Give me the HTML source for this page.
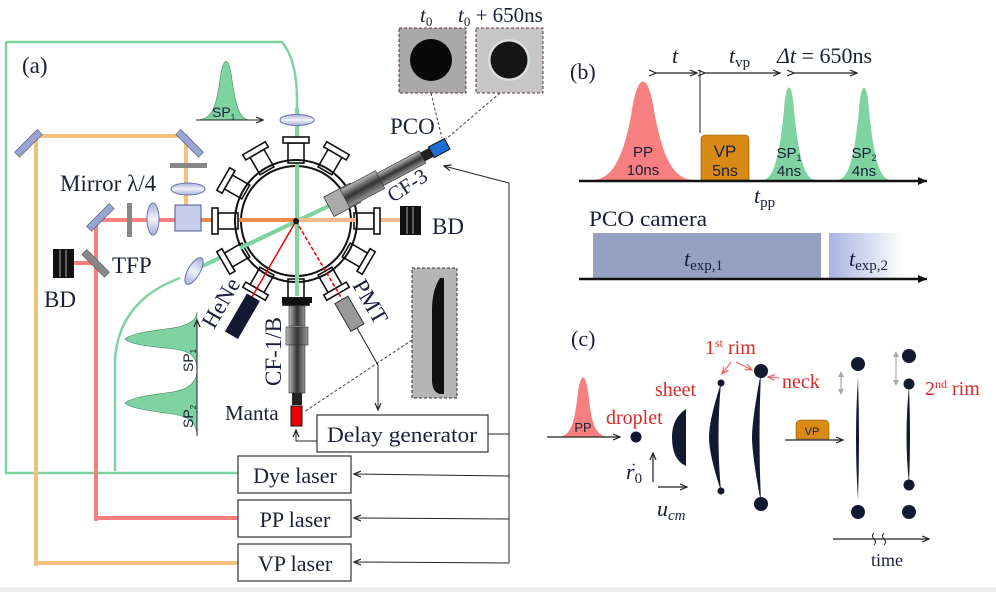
<!DOCTYPE html>
<html><head><meta charset="utf-8"><style>
html,body{margin:0;padding:0;background:#fff;}
svg{display:block;}
text{font-family:"Liberation Serif",serif;fill:#1a1f3a;}
.s{font-family:"Liberation Sans","DejaVu Sans",sans-serif;}
.r{fill:#d42a2a;}
</style></head><body>
<svg width="996" height="592" viewBox="0 0 996 592" xmlns="http://www.w3.org/2000/svg">
<defs>
<linearGradient id="tube" x1="0" y1="0" x2="0" y2="1"><stop offset="0" stop-color="#bbb"/><stop offset=".5" stop-color="#333"/><stop offset="1" stop-color="#999"/></linearGradient>
<linearGradient id="tubev" x1="0" y1="0" x2="1" y2="0"><stop offset="0" stop-color="#bbb"/><stop offset=".5" stop-color="#333"/><stop offset="1" stop-color="#999"/></linearGradient>
<linearGradient id="lens" x1="0" y1="0" x2="0" y2="1"><stop offset="0" stop-color="#a6b0dc"/><stop offset=".5" stop-color="#f0f2fb"/><stop offset="1" stop-color="#a6b0dc"/></linearGradient>
<linearGradient id="exp2" x1="0" y1="0" x2="1" y2="0"><stop offset="0" stop-color="#a8b2e0"/><stop offset="1" stop-color="#fff"/></linearGradient>
<marker id="ah" markerWidth="8" markerHeight="8" refX="7" refY="4" orient="auto" markerUnits="userSpaceOnUse"><path d="M0,1 L7,4 L0,7" fill="none" stroke="#222" stroke-width="1.2"/></marker>
<marker id="at" markerWidth="10" markerHeight="10" refX="9" refY="5" orient="auto" markerUnits="userSpaceOnUse"><path d="M0,1 L9,5 L0,9 Z" fill="#111"/></marker>
<marker id="ar" markerWidth="8" markerHeight="8" refX="7" refY="4" orient="auto" markerUnits="userSpaceOnUse"><path d="M0,1 L7,4 L0,7" fill="none" stroke="#f06060" stroke-width="1.2"/></marker>
</defs>

<rect x="0" y="587" width="996" height="5" fill="#eee"/>

<path d="M6,42 H282 Q297,60 297,100 V310" fill="none" stroke="#7ed3a0" stroke-width="2.5"/>
<path d="M6,42 V473 H238" fill="none" stroke="#7ed3a0" stroke-width="2.5"/>
<line x1="297" y1="108" x2="297" y2="300" stroke="#7ed3a0" stroke-width="4"/>
<path d="M115,471 V358 Q120,300 180,278" fill="none" stroke="#7ed3a0" stroke-width="2.5"/>
<line x1="190" y1="272" x2="333" y2="204" stroke="#7ed3a0" stroke-width="4"/>
<path d="M36,566 V136 H186 V205" fill="none" stroke="#f0c27e" stroke-width="4"/>
<line x1="38" y1="563" x2="238" y2="563" stroke="#f0c27e" stroke-width="4"/>
<path d="M96,521 V220 H178" fill="none" stroke="#f77f7f" stroke-width="4"/>
<line x1="98" y1="518" x2="238" y2="518" stroke="#f77f7f" stroke-width="4"/>
<line x1="62" y1="263" x2="96" y2="263" stroke="#f77f7f" stroke-width="4"/>
<line x1="196" y1="220" x2="297" y2="220" stroke="#ec8c4c" stroke-width="4"/>
<line x1="297" y1="220" x2="400" y2="220" stroke="#f2b890" stroke-width="4"/>

<rect x="12" y="140" width="32" height="7" fill="#9aa3d6" stroke="#555" stroke-width=".6" transform="rotate(-45 28 143)"/>
<rect x="174" y="140" width="32" height="7" fill="#9aa3d6" stroke="#555" stroke-width=".6" transform="rotate(45 190 143)"/>
<rect x="84" y="214" width="32" height="7" fill="#9aa3d6" stroke="#555" stroke-width=".6" transform="rotate(-45 100 217)"/>
<rect x="80" y="260" width="32" height="7" fill="#888" stroke="#555" stroke-width=".6" transform="rotate(45 96 263)"/>
<rect x="170" y="163" width="37" height="5" fill="#888"/>
<ellipse cx="188" cy="189" rx="17" ry="6" fill="url(#lens)" stroke="#6a74a8"/>
<rect x="127" y="203" width="5" height="34" fill="#888"/>
<ellipse cx="153" cy="219" rx="6" ry="16" fill="url(#lens)" stroke="#6a74a8"/>
<rect x="175" y="205" width="26" height="26" fill="#c7cdea" stroke="#4a5a90"/>
<ellipse cx="297" cy="120" rx="17" ry="5.5" fill="url(#lens)" stroke="#6a74a8"/>
<ellipse cx="194" cy="271" rx="6" ry="15" fill="url(#lens)" stroke="#6a74a8" transform="rotate(30 194 271)"/>
<g><rect x="53" y="249" width="21" height="29" fill="#111"/><line x1="60" y1="250" x2="60" y2="277" stroke="#aaa"/><line x1="66" y1="250" x2="66" y2="277" stroke="#aaa"/></g>
<g><rect x="400" y="206" width="21" height="29" fill="#111"/><line x1="407" y1="207" x2="407" y2="234" stroke="#aaa"/><line x1="413" y1="207" x2="413" y2="234" stroke="#aaa"/></g>

<g fill="#fff" stroke="#111" stroke-width="1.6">
<g transform="translate(296,221) rotate(0)"><rect x="58" y="-8" width="20" height="16"/><rect x="78" y="-13" width="6" height="26"/></g>
<g transform="translate(296,221) rotate(30)"><rect x="58" y="-8" width="20" height="16"/><rect x="78" y="-13" width="6" height="26"/></g>
<g transform="translate(296,221) rotate(60)"><rect x="58" y="-8" width="20" height="16"/><rect x="78" y="-13" width="6" height="26"/></g>
<g transform="translate(296,221) rotate(90)"><rect x="58" y="-8" width="20" height="16"/><rect x="78" y="-13" width="6" height="26" fill="#111"/></g>
<g transform="translate(296,221) rotate(120)"><rect x="58" y="-8" width="20" height="16"/><rect x="78" y="-13" width="6" height="26"/></g>
<g transform="translate(296,221) rotate(150)"><rect x="58" y="-8" width="20" height="16"/><rect x="78" y="-13" width="6" height="26"/></g>
<g transform="translate(296,221) rotate(180)"><rect x="58" y="-8" width="20" height="16"/><rect x="78" y="-13" width="6" height="26"/></g>
<g transform="translate(296,221) rotate(210)"><rect x="58" y="-8" width="20" height="16"/><rect x="78" y="-13" width="6" height="26"/></g>
<g transform="translate(296,221) rotate(240)"><rect x="58" y="-8" width="20" height="16"/><rect x="78" y="-13" width="6" height="26"/></g>
<g transform="translate(296,221) rotate(270)"><rect x="58" y="-8" width="20" height="16"/><rect x="78" y="-13" width="6" height="26"/></g>
<g transform="translate(296,221) rotate(300)"><rect x="58" y="-8" width="20" height="16"/><rect x="78" y="-13" width="6" height="26"/></g>
</g>
<circle cx="296" cy="221" r="61" fill="none" stroke="#111" stroke-width="2"/>
<circle cx="296" cy="221" r="55" fill="none" stroke="#111" stroke-width="2"/>
<line x1="297" y1="165" x2="297" y2="296" stroke="#7ed3a0" stroke-width="4"/>
<line x1="240" y1="248" x2="333" y2="204" stroke="#7ed3a0" stroke-width="4"/>
<line x1="240" y1="220" x2="297" y2="220" stroke="#ec8c4c" stroke-width="4"/>
<line x1="297" y1="220" x2="356" y2="220" stroke="#f2b890" stroke-width="4"/>
<line x1="296" y1="221" x2="252" y2="297" stroke="#e00" stroke-width="1.5"/>
<line x1="296" y1="221" x2="342" y2="299" stroke="#e00" stroke-width="1.5" stroke-dasharray="4,2"/>
<circle cx="296" cy="221" r="3" fill="#111"/>
<rect x="235" y="294" width="15" height="44" fill="#111a30" transform="rotate(30 242 316)"/>
<rect x="342" y="298" width="15" height="32" fill="#999" stroke="#333" transform="rotate(-30 349 314)"/>
<rect x="282" y="297" width="30" height="6" fill="#111"/>
<rect x="289" y="306" width="16" height="20" fill="url(#tubev)" stroke="#333" stroke-width=".6"/>
<rect x="286" y="327" width="22" height="18" fill="url(#tubev)" stroke="#333" stroke-width=".6"/>
<rect x="289" y="345" width="16" height="48" fill="url(#tubev)" stroke="#333" stroke-width=".6"/>
<rect x="292" y="393" width="10" height="12" fill="#222"/>
<rect x="291" y="406" width="11" height="20" fill="#e00" stroke="#111"/>
<g transform="translate(336,203) rotate(-28)">
<rect x="-8" y="-11" width="30" height="22" fill="#aaa" stroke="#333" stroke-width=".7"/>
<rect x="10" y="-10" width="40" height="20" fill="url(#tube)" stroke="#333" stroke-width=".6"/>
<rect x="50" y="-7" width="48" height="14" fill="url(#tube)" stroke="#333" stroke-width=".6"/>
<rect x="98" y="-5" width="10" height="10" fill="#222"/>
<rect x="108" y="-6" width="18" height="12" fill="#1a6fd0" stroke="#111"/>
</g>
<line x1="431" y1="93" x2="442" y2="138" stroke="#5a3a3a" stroke-width="1" stroke-dasharray="3,2"/>
<line x1="500" y1="93" x2="446" y2="139" stroke="#5a3a3a" stroke-width="1" stroke-dasharray="3,2"/>
<line x1="412" y1="340" x2="304" y2="412" stroke="#5a3a3a" stroke-width="1" stroke-dasharray="3,2"/>
<rect x="399" y="28" width="67" height="65" fill="#a9a9a9" stroke="#5a3a3a" stroke-dasharray="3,2"/>
<circle cx="431" cy="60" r="21" fill="#080808"/>
<rect x="476" y="28" width="67" height="65" fill="#c6c6c6" stroke="#5a3a3a" stroke-dasharray="3,2"/>
<circle cx="509" cy="60" r="21" fill="#ddd"/><circle cx="509" cy="60" r="18.5" fill="#151515"/>
<rect x="412" y="268" width="45" height="130" fill="#b5b5b5" stroke="#333" stroke-dasharray="3,2"/>
<path d="M440,278 Q432,290 432,310 L432,380 Q432,392 440,394 L444,394 L444,278 Z" fill="#111"/>

<polyline points="509,183 509,563" fill="none" stroke="#222" stroke-width="1"/>
<line x1="509" y1="183" x2="444" y2="166" stroke="#222" stroke-width="1" marker-end="url(#ah)"/>
<line x1="488" y1="434" x2="509" y2="434" stroke="#222"/>
<line x1="509" y1="476" x2="354" y2="474" stroke="#222" marker-end="url(#ah)"/>
<line x1="509" y1="519" x2="354" y2="518" stroke="#222" marker-end="url(#ah)"/>
<line x1="509" y1="563" x2="354" y2="562" stroke="#222" marker-end="url(#ah)"/>
<polyline points="357,328 378,365 378,410" fill="none" stroke="#222" marker-end="url(#ah)"/>
<polyline points="317,441 296,441 296,430" fill="none" stroke="#222" marker-end="url(#ah)"/>

<g fill="#fff" stroke="#333" stroke-width="1.2">
<rect x="317" y="415" width="171" height="37"/>
<rect x="238" y="456" width="113" height="37"/>
<rect x="238" y="500" width="113" height="37"/>
<rect x="238" y="544" width="113" height="37"/>
</g>
<g font-size="22">
<text x="402" y="442" text-anchor="middle" textLength="150" lengthAdjust="spacingAndGlyphs">Delay generator</text>
<text x="295" y="483" text-anchor="middle">Dye laser</text>
<text x="295" y="527" text-anchor="middle">PP laser</text>
<text x="295" y="571" text-anchor="middle">VP laser</text>
</g>

<path d="M196,120 C212,120 216,108 220,80 C223,55 229,55 232,80 C236,108 240,120 250,120 Z" fill="#7ed3a0" stroke="#3a8a5a" stroke-width=".6"/>
<line x1="196" y1="120" x2="263" y2="120" stroke="#222" marker-end="url(#ah)"/>
<text x="212" y="117" class="s" font-size="14">SP<tspan font-size="8" dy="3">1</tspan></text>
<path d="M197,436 C197,420 185,415 165,413 C145,410 130,408 125,403 C130,398 145,396 165,393 C185,391 197,385 197,370 C197,352 185,350 165,348 C145,346 130,344 125,339 C130,334 145,332 165,329 C185,327 197,322 197,312 Z" fill="#7ed3a0" stroke="#3a8a5a" stroke-width=".6"/>
<line x1="197" y1="436" x2="197" y2="320" stroke="#222" marker-end="url(#ah)"/>
<text class="s" font-size="14" transform="translate(193,372) rotate(-90)">SP<tspan font-size="8" dy="3">1</tspan></text>
<text class="s" font-size="14" transform="translate(193,428) rotate(-90)">SP<tspan font-size="8" dy="3">2</tspan></text>

<g font-size="23">
<text x="22" y="73">(a)</text>
<text x="60" y="191">Mirror λ/4</text>
<text x="112" y="273">TFP</text>
<text x="44" y="307">BD</text>
<text x="432" y="234">BD</text>
<text x="390" y="134">PCO</text>
<text x="225" y="420" font-size="21">Manta</text>
<text transform="translate(393,203) rotate(-33)" font-size="21">CF-3</text>
<text transform="translate(214,330) rotate(-60)">HeNe</text>
<text transform="translate(352,285) rotate(60)">PMT</text>
<text transform="translate(281,386) rotate(-90)">CF-1/B</text>
<text x="420" y="22" font-size="21" font-style="italic">t<tspan font-size="13" dy="4" font-style="normal">0</tspan></text>
<text x="458" y="22" font-size="21" font-style="italic">t<tspan font-size="13" dy="4" font-style="normal">0</tspan><tspan dy="-4" font-style="normal"> + 650ns</tspan></text>
</g>

<text x="570" y="79" font-size="22">(b)</text>
<path d="M592,180 C615,180 625,150 632,110 C638,72 648,72 654,110 C661,150 671,180 694,180 Z" fill="#f77f7f"/>
<path d="M701,180 V140 Q701,135 706,135 H745 Q749,135 749,140 V180 Z" fill="#d98a14" stroke="#7a4a00" stroke-width=".6"/>
<path d="M762,180 C775,180 780,150 784,110 C786,80 792,80 794,110 C798,150 803,180 816,180 Z" fill="#7ed3a0"/>
<path d="M837,180 C850,180 855,150 859,110 C861,80 867,80 869,110 C873,150 878,180 891,180 Z" fill="#7ed3a0"/>
<line x1="579" y1="181" x2="927" y2="181" stroke="#111" stroke-width="2.5" marker-end="url(#at)"/>
<line x1="700" y1="70" x2="700" y2="133" stroke="#222"/>
<g stroke="#222" stroke-width="1.2">
<line x1="656" y1="73" x2="697" y2="73" marker-end="url(#ah)" marker-start="url(#ah)"/>
<line x1="705" y1="73" x2="780" y2="73" marker-end="url(#ah)" marker-start="url(#ah)"/>
<line x1="794" y1="73" x2="857" y2="73" marker-end="url(#ah)" marker-start="url(#ah)"/>
</g>
<g font-size="15" text-anchor="middle">
<text x="643" y="157" class="s" fill="#333">PP</text><text x="643" y="175" class="s" fill="#333">10ns</text>
<text x="725" y="157" class="s" font-size="17" fill="#333">VP</text><text x="725" y="176" class="s" font-size="16" fill="#333">5ns</text>
<text x="789" y="158" class="s" fill="#333">SP<tspan font-size="9" dy="3">1</tspan></text><text x="789" y="176" class="s" fill="#333">4ns</text>
<text x="864" y="158" class="s" fill="#333">SP<tspan font-size="9" dy="3">2</tspan></text><text x="864" y="176" class="s" fill="#333">4ns</text>
</g>
<g font-size="22">
<text x="672" y="63" font-style="italic">t</text>
<text x="729" y="63" font-style="italic">t<tspan font-size="15" dy="4" font-style="normal">vp</tspan></text>
<text x="777" y="63"><tspan font-style="italic">Δt</tspan> = 650ns</text>
<text x="754" y="203" font-style="italic">t<tspan font-size="15" dy="4" font-style="normal">pp</tspan></text>
<text x="589" y="226" textLength="118" lengthAdjust="spacingAndGlyphs">PCO camera</text>
</g>
<rect x="593" y="233" width="228" height="47" fill="#95a0c2"/>
<rect x="829" y="233" width="74" height="47" fill="url(#exp2)"/>
<line x1="579" y1="279" x2="927" y2="279" stroke="#111" stroke-width="2.5" marker-end="url(#at)"/>
<text x="684" y="266" font-size="22" font-style="italic">t<tspan font-size="15" dy="4" font-style="normal">exp,1</tspan></text>
<text x="849" y="266" font-size="22" font-style="italic">t<tspan font-size="15" dy="4" font-style="normal">exp,2</tspan></text>

<text x="571" y="346" font-size="22">(c)</text>
<path d="M557,437 C570,437 574,425 577,400 C580,370 586,370 589,400 C592,425 596,437 610,437 Z" fill="#f77f7f"/>
<line x1="547" y1="437" x2="620" y2="437" stroke="#222" stroke-width="1.2" marker-end="url(#ah)"/>
<text x="583" y="432" class="s" font-size="13" text-anchor="middle" fill="#333">PP</text>
<circle cx="636" cy="437" r="5.5" fill="#111a30"/>
<path d="M686,409 Q672,418 672,437 Q672,460 686,466 Z" fill="#111a30"/>
<path d="M721,383 Q709,420 709,437 Q709,455 721,491 Q716,437 721,383 Z" fill="#111a30"/>
<circle cx="721" cy="383" r="3.5" fill="#111a30"/><circle cx="721" cy="491" r="3.5" fill="#111a30"/>
<path d="M761,372 Q752,420 752,437 Q752,455 761,503 Q758,437 761,372 Z" fill="#111a30"/>
<circle cx="761" cy="371" r="7" fill="#111a30"/><circle cx="761" cy="504" r="7" fill="#111a30"/>
<path d="M858,378 Q854,437 858,500 Q860,437 858,378 Z" fill="#111a30"/>
<circle cx="858" cy="364" r="7" fill="#111a30"/><circle cx="858" cy="512" r="7" fill="#111a30"/>
<path d="M909,386 Q904,437 909,484 Q911,437 909,386 Z" fill="#111a30"/>
<circle cx="909" cy="356" r="7" fill="#111a30"/><circle cx="909" cy="384" r="5.5" fill="#111a30"/>
<circle cx="909" cy="485" r="5.5" fill="#111a30"/><circle cx="909" cy="512" r="7" fill="#111a30"/>
<path d="M796,439 V425 Q796,420 801,420 H824 Q829,420 829,425 V439 Z" fill="#d98a14" stroke="#7a4a00" stroke-width=".5"/>
<text x="812" y="435" class="s" font-size="11" text-anchor="middle" fill="#333">VP</text>
<line x1="785" y1="440" x2="843" y2="440" stroke="#222" stroke-width="1.2" marker-end="url(#ah)"/>
<g stroke="#aaa" stroke-width="1.2"><line x1="841" y1="374" x2="841" y2="392"/><line x1="896" y1="354" x2="896" y2="383"/></g>
<path d="M838,377 L841,371 L844,377 Z M838,389 L841,395 L844,389 Z M893,357 L896,351 L899,357 Z M893,380 L896,386 L899,380 Z" fill="#aaa"/>
<g font-size="20">
<text x="606" y="424" class="r">droplet</text>
<text x="655" y="396" class="r">sheet</text>
<text x="705" y="354" class="r">1<tspan font-size="12" dy="-7">st</tspan><tspan dy="7"> rim</tspan></text>
<text x="782" y="388" class="r">neck</text>
<text x="925" y="395" class="r">2<tspan font-size="12" dy="-7">nd</tspan><tspan dy="7"> rim</tspan></text>
</g>
<g stroke="#f06060" stroke-width="1.1">
<line x1="731" y1="362" x2="722" y2="374" marker-end="url(#ar)"/>
<line x1="736" y1="362" x2="752" y2="370" marker-end="url(#ar)"/>
<line x1="780" y1="378" x2="768" y2="377" marker-end="url(#ar)"/>
</g>
<line x1="653" y1="482" x2="653" y2="453" stroke="#222" stroke-width="1.2" marker-end="url(#ah)"/>
<line x1="658" y1="487" x2="687" y2="487" stroke="#222" stroke-width="1.2" marker-end="url(#ah)"/>
<text x="626" y="479" font-size="22" font-style="italic">r<tspan font-size="15" dy="4" font-style="normal">0</tspan></text>
<text x="631" y="470" font-size="16">·</text>
<text x="657" y="516" font-size="22" font-style="italic">u<tspan font-size="15" dy="4">cm</tspan></text>
<line x1="833" y1="539" x2="929" y2="539" stroke="#222" stroke-width="1.2" marker-end="url(#ah)"/>
<path d="M874,533 q-3,3 0,6 q3,3 0,6 M884,533 q-3,3 0,6 q3,3 0,6" fill="#fff" stroke="#222"/>
<text x="887" y="566" font-size="18" text-anchor="middle">time</text>
</svg>
</body></html>
